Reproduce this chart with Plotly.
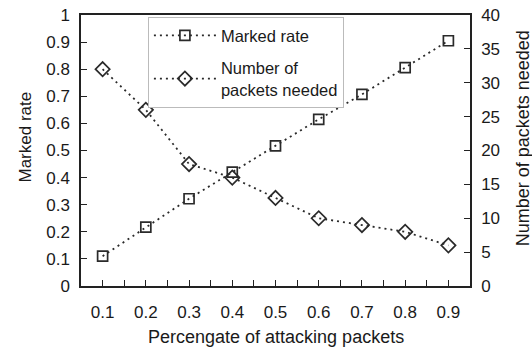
import plotly.graph_objects as go

x_vals = [0.1, 0.2, 0.3, 0.4, 0.5, 0.6, 0.7, 0.8, 0.9]
marked_rate = [0.11, 0.217, 0.322, 0.42, 0.517, 0.615, 0.707, 0.806, 0.905]
packets_needed = [32, 26, 18, 16, 13, 10, 9, 8, 6]
x_tick_labels = ["0.1", "0.2", "0.3", "0.4", "0.5", "0.6", "0.7", "0.8", "0.9"]

font_family = "Liberation Sans, Arial, sans-serif"
c = "#2a2a2a"
tc = "#1a1a1a"

fig = go.Figure()
fig.add_trace(go.Scatter(
    x=x_vals, y=marked_rate, name="Marked rate", mode="lines+markers",
    legendgroup="a",
    line=dict(color=c, width=1.8, dash="2px,4px"),
    marker=dict(symbol="square-open", size=10, color=c, line=dict(width=1.7)),
))
fig.add_trace(go.Scatter(
    x=x_vals, y=packets_needed, name="Number of<br>packets needed", mode="lines+markers",
    yaxis="y2", legendgroup="b",
    line=dict(color=c, width=1.8, dash="2px,4px"),
    marker=dict(symbol="diamond-open", size=11, color=c, line=dict(width=1.7)),
))

axis_common = dict(showgrid=False, zeroline=False, showline=True, linecolor="#222",
                   linewidth=1.5, ticks="inside", ticklen=6, tickcolor="#222",
                   automargin=False, tickfont=dict(size=17, color=tc))

fig.update_layout(
    width=532, height=349,
    margin=dict(l=81, r=62, t=15, b=63),
    paper_bgcolor="white", plot_bgcolor="white",
    font=dict(family=font_family, size=16, color=tc),
    showlegend=True,
    legend=dict(x=0.172, y=0.992, xanchor="left", yanchor="top",
                bordercolor="#bbbbbb", borderwidth=1, bgcolor="white",
                font=dict(size=16.5, color=tc), tracegroupgap=8, itemwidth=62),
    xaxis=dict(range=[0.05, 0.95], tickvals=x_vals, ticktext=x_tick_labels,
               minor=dict(tickvals=[0.15, 0.25, 0.35, 0.45, 0.55, 0.65, 0.75, 0.85],
                          ticks="inside", ticklen=6, tickcolor="#222"),
               mirror=True, ticklabelstandoff=10, **axis_common),
    yaxis=dict(range=[0, 1], dtick=0.1, ticklabelstandoff=6, **axis_common),
    yaxis2=dict(range=[0, 40], dtick=5, overlaying="y", side="right",
                ticklabelstandoff=6, **axis_common),
    annotations=[
        dict(text="Percengate of attacking packets", xref="paper", yref="paper",
             x=0.5, y=0, yshift=-51, xanchor="center", yanchor="middle",
             showarrow=False, font=dict(size=18, color=tc)),
        dict(text="Marked rate", xref="paper", yref="paper",
             x=0, y=0.548, xshift=-56, xanchor="center", yanchor="middle", textangle=-90,
             showarrow=False, font=dict(size=17, color=tc)),
        dict(text="Number of packets needed", xref="paper", yref="paper",
             x=1, y=0.545, xshift=53, xanchor="center", yanchor="middle", textangle=-90,
             showarrow=False, font=dict(size=18, color=tc)),
    ],
)

fig.write_html("out.html", config={"displayModeBar": False},
               post_script="document.body.style.margin='0';")
